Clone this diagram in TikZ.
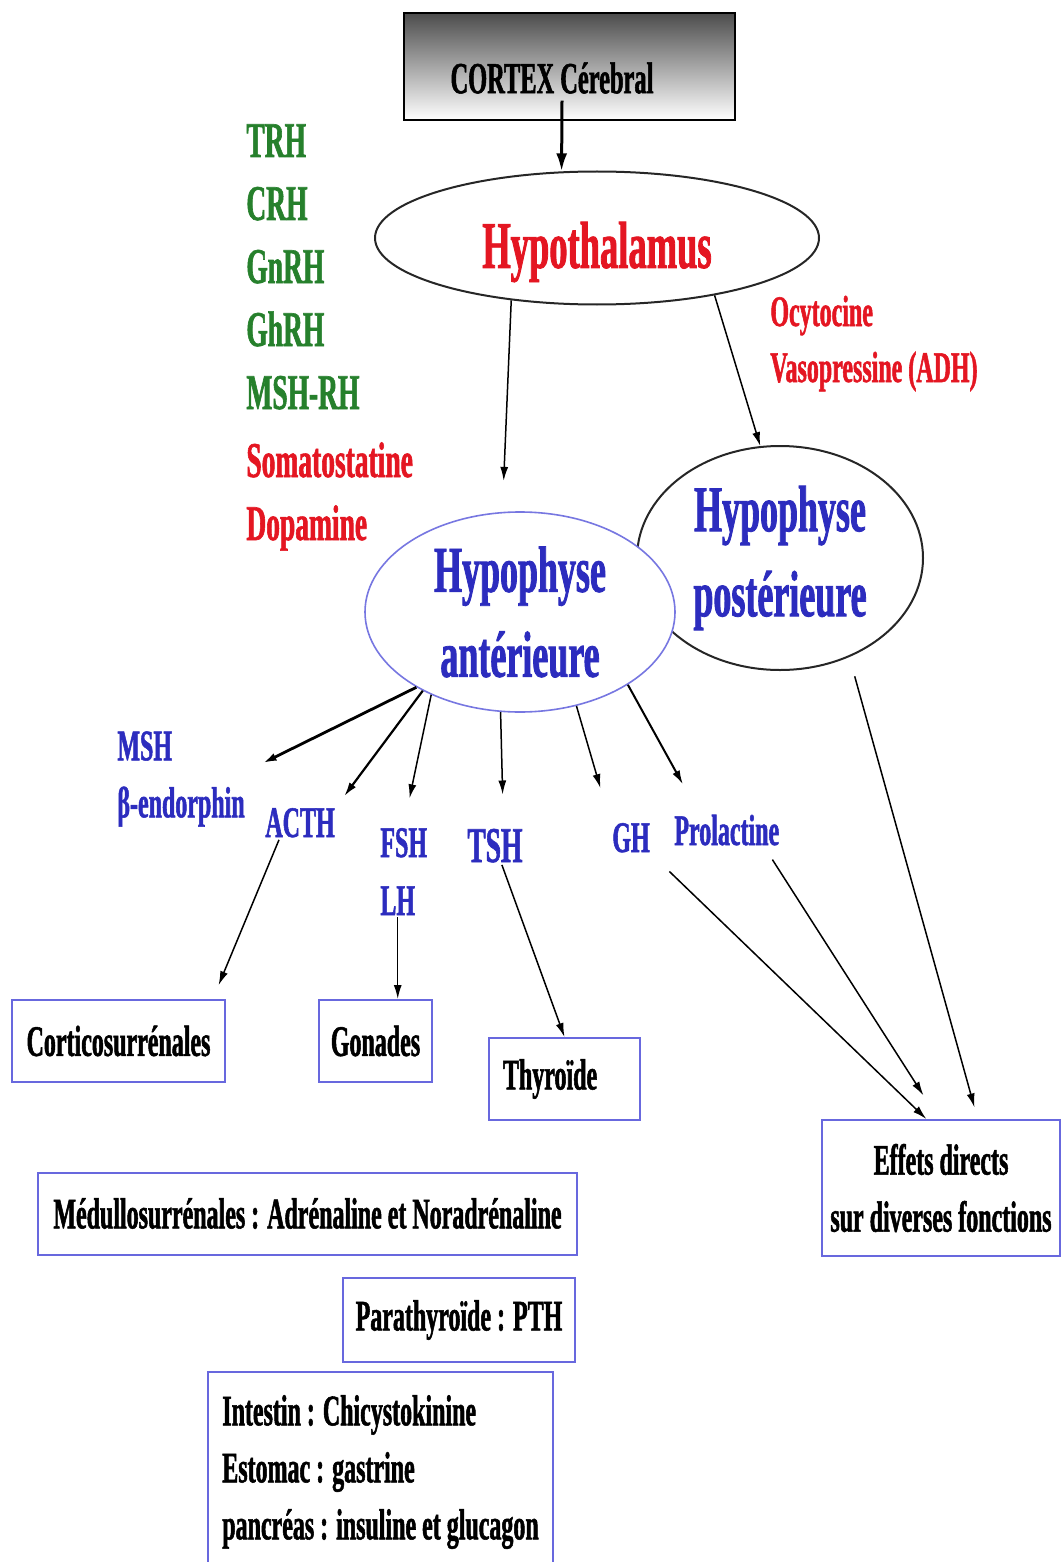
\documentclass[tikz,border=0pt]{standalone}
\usepackage{fontspec}
\setmainfont{Liberation Serif}[FakeStretch=0.55, BoldFeatures={FakeBold=1.2}]
\usetikzlibrary{shapes.geometric,arrows.meta}

\definecolor{hred}{RGB}{228,22,34}
\definecolor{hgreen}{RGB}{38,128,44}
\definecolor{hblue}{RGB}{44,44,190}
\definecolor{boxblue}{RGB}{104,104,222}

\tikzset{
  gland/.style={draw=boxblue, line width=1pt, fill=white, minimum height=41pt, inner sep=0pt,
    font=\fontsize{21.8}{28.5}\selectfont\bfseries},
  lobe/.style={ellipse, draw=black!85, line width=1pt, fill=white, inner sep=0pt, align=center,
    text=hblue, font=\fontsize{32.7}{42.5}\selectfont\bfseries},
  rh/.style={anchor=base west, inner sep=0pt, text=hgreen, font=\fontsize{25}{28}\selectfont\bfseries},
  hormone/.style={anchor=base west, inner sep=1pt, text=hblue, font=\fontsize{21.8}{28.5}\selectfont\bfseries},
  arr/.style={-{Latex[length=7pt,width=4pt]}, line width=0.75pt},
}

\begin{document}
\begin{tikzpicture}[x=0.5pt, y=-0.5pt]
    \useasboundingbox (0,0) rectangle (1062,1562);

    % Cortex and hypothalamus
    \node[draw, line width=1pt, top color=black!70, bottom color=white,
          minimum width=165.5pt, minimum height=53.5pt] (cortex) at (569.5,66.5) {};
    \node[font=\fontsize{22.2}{24}\selectfont\bfseries] (cortextxt) at (552,78) {CORTEX Cérebral};
    \node[ellipse, draw=black!85, line width=1pt, minimum width=222pt, minimum height=66.5pt,
          label={[name=hypotxt, text=hred, yshift=-7pt, font=\fontsize{33.2}{36}\selectfont\bfseries]center:Hypothalamus}]
          (hypo) at (597,238) {};
    \draw[-{Latex[length=9pt,width=5.5pt]}, line width=1.5pt] ([xshift=5pt]cortextxt.south) -- (hypo.118);

    % Releasing / inhibiting hormones
    \foreach \lab [count=\i from 0] in {TRH,CRH,GnRH,GhRH,MSH-RH}
        \node[rh] (rh\i) at (246,{157+63*\i}) {\lab};
    \node[rh, text=hred] (soma) at (246,477) {Somatostatine};
    \node[rh, text=hred] (dopa) at (246,540) {Dopamine};

    % Posterior hormones
    \node[rh, text=hred, font=\fontsize{21.8}{28}\selectfont\bfseries] (ocy) at (770,326) {Ocytocine};
    \node[rh, text=hred, font=\fontsize{21.8}{28}\selectfont\bfseries] (vaso) at (770,382) {Vasopressine (ADH)};

    % Pituitary lobes
    \node[lobe, minimum width=143pt, minimum height=112pt] (post) at (780,558) {Hypophyse\\postérieure};
    \node[lobe, draw=boxblue!90, line width=0.8pt, minimum width=155pt, minimum height=100pt]
          (antr) at (520,612) {Hypophyse\\antérieure};

    \draw[arr, shorten >=15.5pt] (hypo.216) -- (antr.100);
    \draw[arr] (hypo.-26) -- (post.100);

    % Anterior hormones
    \node[hormone, align=left, anchor=north west] (msh) at (115,729) {MSH\\β-endorphin};
    \node[hormone] (acth) at (263,837) {ACTH};
    \node[hormone] (fsh) at (378,857) {FSH};
    \node[hormone] (lh) at (378,915) {LH};
    \node[hormone, font=\fontsize{25}{28}\selectfont\bfseries] (tsh) at (465,862) {TSH};
    \node[hormone] (gh) at (610,852) {GH};
    \node[hormone] (prol) at (672,845) {Prolactine};

    \draw[arr, line width=1.4pt, shorten >=2pt] (antr.216) -- ([xshift=6pt]msh.12);
    \draw[arr, line width=1.1pt, shorten >=6pt] (antr.219) -- (acth.north east);
    \draw[arr, shorten >=14pt] (antr.223) -- (fsh.north);
    \draw[arr, shorten >=16pt] (antr.259) -- (tsh.66);
    \draw[arr, shorten >=17pt] (antr.301) -- (gh.north west);
    \draw[arr, line width=1pt, shorten >=16pt] (antr.326) -- (prol.148);

    % Target glands
    \node[gland, minimum width=106.5pt] (cort) at (118.5,1041) {Corticosurrénales};
    \node[gland, minimum width=56.5pt] (gon) at (375.5,1041) {Gonades};
    \node[gland, text width=61.5pt, inner xsep=7pt, align=left] (thy) at (564.5,1079) {Thyroïde};
    \node[gland, minimum width=119pt, minimum height=68pt, align=center] (eff) at (941,1188)
          {Effets directs\\sur diverses fonctions};
    \node[gland, minimum width=269.5pt] (medul) at (307.5,1213.5) {Médullosurrénales : Adrénaline et Noradrénaline};
    \node[gland, minimum width=116pt, minimum height=42pt] (para) at (459,1320) {Parathyroïde : PTH};
    \node[gland, minimum width=172.5pt, minimum height=100pt, align=left] (gut) at (380.5,1472)
          {Intestin : Chicystokinine\\Estomac : gastrine\\pancréas : insuline et glucagon};

    \draw[arr, shorten >=7.5pt] (acth.219) -- (cort.24);
    \draw[arr] (lh.south) -- (lh.south |- gon.north);
    \draw[arr] (tsh.-70) -- (thy.north);
    \draw[arr, shorten <=12pt] (gh.south east) -- (eff.102);
    \draw[arr, shorten <=7pt, shorten >=14pt] (prol.-25) -- (eff.92);
    \draw[arr, shorten <=10pt, shorten >=6pt] (post.-55) -- (eff.62);
\end{tikzpicture}
\end{document}
